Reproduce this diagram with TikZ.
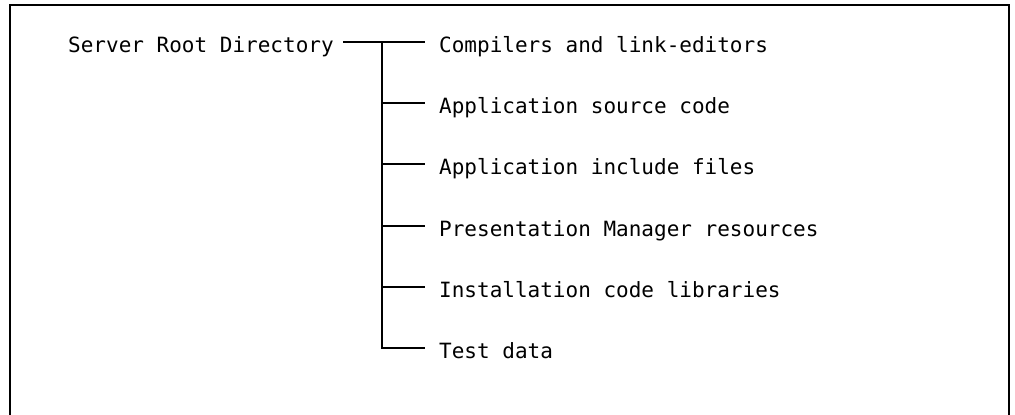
\documentclass[tikz,border=0pt]{standalone}
\usepackage{fontspec}
\setmonofont{DejaVu Sans Mono}
\begin{document}
\begin{tikzpicture}[x=1pt,y=-1pt,
    frame/.style={line width=2pt},
    link/.style={line width=1.8pt},
    label/.style={anchor=base west,inner sep=0pt,font=\ttfamily\fontsize{21}{25}\selectfont}]
  \useasboundingbox (0,0) rectangle (1015,415);
  % open frame: top, left and right sides only
  \draw[frame] (10,415) -- (10,5) -- (1009,5) -- (1009,415);
  % root entry and the start of its connector
  \node[label] (root) at (68,52) {Server Root Directory};
  \coordinate (rootend) at (343,42);
  % entries, with the point where each branch meets its text
  \foreach \i/\y/\t in {1/52/Compilers and link-editors,
                        2/113/Application source code,
                        3/174/Application include files,
                        4/236/Presentation Manager resources,
                        5/297/Installation code libraries,
                        6/358/Test data} {
    \node[label] (e\i) at (439,\y) {\t};
    \coordinate (b\i) at (425,\y-10);
    \coordinate (t\i) at (382,\y-10);
  }
  % connectors
  \draw[link] (rootend) -- (t1) -- (b1);
  \draw[link] (t1) -- (t6) -- (b6);
  \foreach \i in {2,...,5} \draw[link] (t\i) -- (b\i);
\end{tikzpicture}
\end{document}
